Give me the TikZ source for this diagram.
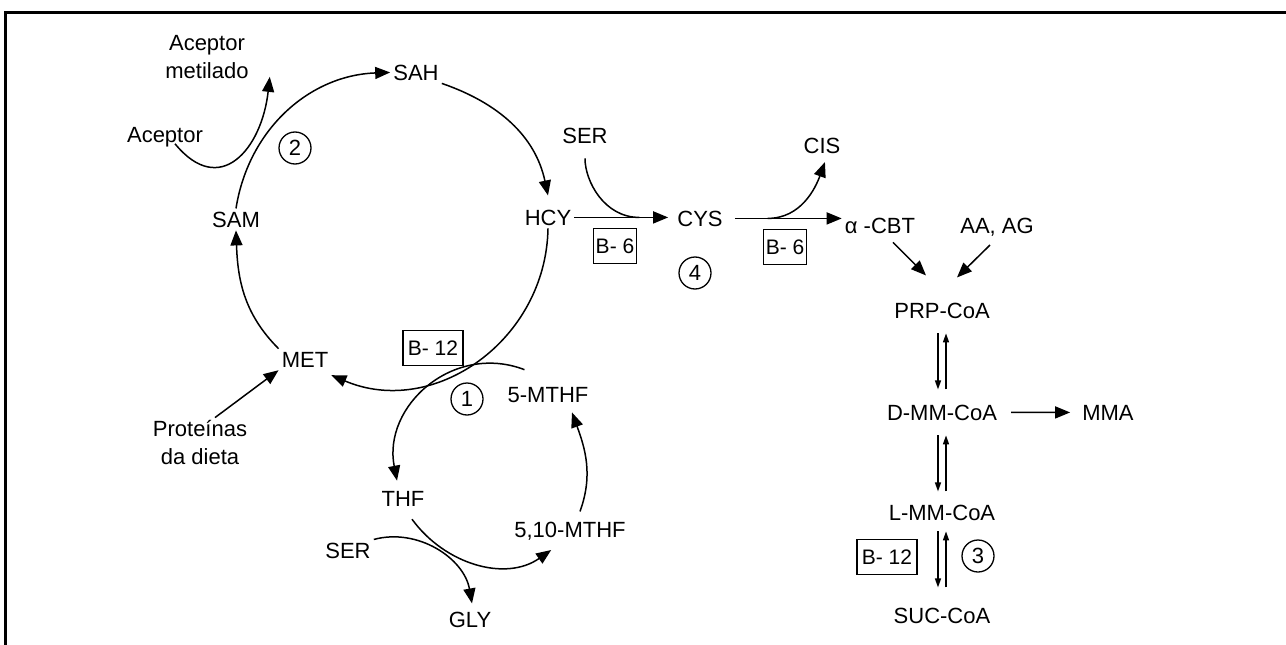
\documentclass[tikz,border=0pt]{standalone}
\usepackage{fontspec}
\setmainfont{Liberation Sans}
\usepackage{tikz}
\usetikzlibrary{arrows.meta,calc}

\begin{document}
\begin{tikzpicture}[x=1pt,y=1pt,every node/.style={font=\fontsize{22}{28}\selectfont,inner sep=3pt},
  mol/.style={anchor=base},
  flow/.style={line width=1.5pt,-{Triangle[length=15pt,width=12pt]}},
  line/.style={line width=1.5pt},
  eq/.style={line width=1.4pt,-{Triangle[length=9pt,width=6pt]}},
  vit/.style={draw,line width=1.3pt,minimum height=35pt,inner sep=0pt,font=\fontsize{21}{25}\selectfont},
  num/.style={draw,circle,line width=1.3pt,minimum size=32pt,inner sep=0pt}]

  \useasboundingbox (0,0) rectangle (1286,-645);

  % frame
  \draw[line width=3pt] (1286,-12.3) -- (5.5,-12.3) -- (5.5,-645);

  % methionine cycle
  \node[mol] (sah) at (416,-80) {SAH};
  \node[mol] (sam) at (236,-227) {SAM};
  \node[mol] (hcy) at (548,-225) {HCY};
  \node[mol] (met) at (305,-367) {MET};
  \node[align=center] (accm) at (207,-57) {Aceptor\\metilado};
  \node[mol] (acc) at (165,-142) {Aceptor};
  \node[align=center] (prot) at (200,-443) {Proteínas\\da dieta};
  \node[num] (n2) at (295,-148) {2};
  \node[vit,minimum width=60pt] (b12a) at (433,-348) {B- 12};

  \draw[flow] (sam.north) to[out=81,in=182] (sah.west);
  \draw[flow] (sah.south east) to[out=-19,in=102] ([yshift=11pt]hcy.north);
  \draw[flow] (hcy.south) to[out=-91,in=-23,looseness=1.09] ([yshift=-5pt]met.south east);
  \draw[flow] (met.north west) to[out=135,in=-88] (sam.south);
  \draw[flow] ([xshift=10pt,yshift=6pt]acc.south) .. controls +(45,-55) and +(-8,-72) .. ([xshift=18pt,yshift=5pt]accm.south east);
  \draw[flow] ([xshift=15pt]prot.north) -- (met.south west);

  % folate cycle
  \node[mol] (mthf) at (548,-402) {5-MTHF};
  \node[mol] (thf) at (403,-506) {THF};
  \node[mol] (mthfb) at (570,-537) {5,10-MTHF};
  \node[mol] (serb) at (348,-558) {SER};
  \node[mol] (gly) at (470,-627) {GLY};
  \node[num] (n1) at (467,-399) {1};

  \draw[flow] ([xshift=20pt,yshift=14pt]mthf.north west) to[out=159,in=101,looseness=1.15] ([xshift=-6pt,yshift=7pt]thf.north);
  \draw[flow] ([xshift=9pt,yshift=-10pt]thf.south) to[out=-54,in=215] ([xshift=40pt,yshift=-7pt]mthfb.south west);
  \draw[flow] ([xshift=10pt,yshift=7pt]mthfb.north) to[out=70,in=-70] ([xshift=24pt,yshift=-7pt]mthf.south);
  \draw[flow] (serb.north east) to[out=15,in=100] ([xshift=2pt,yshift=5pt]gly.north);

  % transsulfuration
  \node[mol] (ser) at (585,-143) {SER};
  \node[mol] (cys) at (700,-226) {CYS};
  \node[mol] (cis) at (822,-153) {CIS};
  \node[mol] (cbt) at (880,-233) {α -CBT};
  \node[mol] (aa) at (997,-233) {AA, AG};
  \node[vit,minimum width=43pt] (b6a) at (615,-246) {B- 6};
  \node[vit,minimum width=43pt] (b6b) at (785,-247) {B- 6};
  \node[num] (n4) at (695,-273) {4};

  \coordinate (j1) at ($(hcy.east)!.65!(hcy.east -| cys.west)$);
  \coordinate (j2) at ($(cys.east)!.36!(cys.east -| cbt.west)$);
  \draw[flow,shorten >=6pt] (hcy.east) -- (hcy.east -| cys.west);
  \draw[line,shorten <=12pt] (ser.south) to[out=-90,in=180] (j1);
  \draw[flow,shorten <=9pt] (cys.east) -- (cys.east -| cbt.west);
  \draw[flow,shorten >=6pt] (j2) to[out=0,in=-110] ([xshift=5pt]cis.south);

  % propionate
  \node[mol] (prp) at (942,-318) {PRP-CoA};
  \node[mol] (dmm) at (942,-420) {D-MM-CoA};
  \node[mol] (mma) at (1108,-420) {MMA};
  \node[mol] (lmm) at (942,-520) {L-MM-CoA};
  \node[mol] (suc) at (942,-623) {SUC-CoA};
  \node[vit,minimum width=60pt] (b12b) at (887,-557) {B- 12};
  \node[num] (n3) at (978,-556) {3};

  \draw[flow] ([xshift=13pt,yshift=-6pt]cbt.south) -- ([xshift=-16pt,yshift=24pt]prp.north);
  \draw[flow] ([xshift=-7pt,yshift=-6pt]aa.south) -- ([xshift=15pt,yshift=22pt]prp.north);
  \foreach \a/\b/\s/\t in {prp/dmm/12/12,dmm/lmm/12/10,lmm/suc/8/17} {
    \draw[eq,shorten <=\s pt,shorten >=\t pt] ([xshift=-4pt]\a.south) -- ([xshift=-4pt]\a.south |- \b.north);
    \draw[eq,shorten <=\t pt,shorten >=\s pt] ([xshift=4pt]\a.south |- \b.north) -- ([xshift=4pt]\a.south);
  }
  \draw[flow,shorten <=11pt,shorten >=9pt] (dmm.east) -- (mma.west);

\end{tikzpicture}
\end{document}
